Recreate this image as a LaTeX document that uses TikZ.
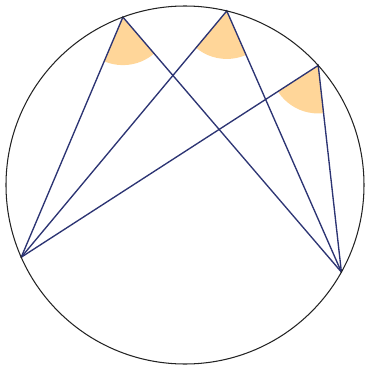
\documentclass[tikz,border=0pt]{standalone}
\definecolor{wedge}{RGB}{255,214,153}
\definecolor{chord}{RGB}{44,52,115}
\definecolor{rim}{RGB}{35,35,35}
\tikzset{
  chordline/.style={draw=chord,line width=1.35pt,line cap=round},
  rimline/.style={draw=rim,line width=1.05pt},
  wedgefill/.style={fill=wedge}
}
\begin{document}
\begin{tikzpicture}[x=1pt,y=1pt]
\useasboundingbox (-185,-185) rectangle (181,185);
\def\R{179}
\coordinate (O) at (0,0);
\coordinate (A) at (203.8:\R);
\coordinate (B) at (-29.1:\R);
\coordinate (P1) at (110.3:\R);
\coordinate (P2) at (76.5:\R);
\coordinate (P3) at (41.9:\R);
\foreach \p in {P1,P2,P3}{
  \begin{scope}
    \clip (\p) -- (A) -- (B) -- cycle;
    \fill[wedgefill] (\p) circle (48);
  \end{scope}
}
\foreach \p in {P1,P2,P3}{
  \draw[chordline] (A) -- (\p) -- (B);
}
\draw[rimline] (O) circle (\R);
\end{tikzpicture}
\end{document}
